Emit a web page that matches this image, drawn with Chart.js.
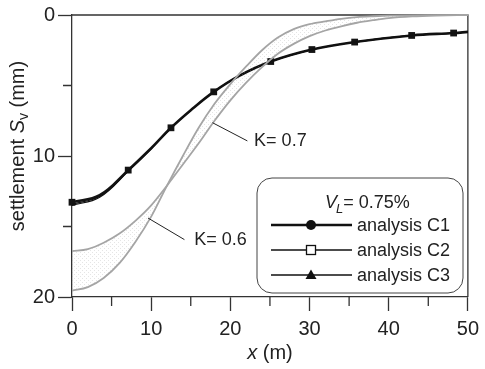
<!DOCTYPE html>
<html>
<head>
<meta charset="utf-8">
<script src="https://cdn.jsdelivr.net/npm/chart.js@4.4.1/dist/chart.umd.min.js"></script>
<style>
  html, body { margin: 0; padding: 0; background: #fff; }
  #wrap { width: 485px; height: 369px; }
</style>
</head>
<body>
<div id="wrap"><canvas id="settlementChart" width="485" height="369"></canvas></div>
<script>
// values: x in m, settlement in mm
const xGauss = [0, 2, 4, 6, 8, 10, 12, 14, 16, 18, 20, 22, 24, 26, 28, 30, 32, 34, 36, 38, 40, 43, 46, 50];
const k07 = [16.75, 16.6, 16.15, 15.5, 14.6, 13.5, 12.1, 10.6, 9.1, 7.5, 6.05, 4.8, 3.7, 2.75, 2.05, 1.5, 1.1, 0.8, 0.55, 0.37, 0.22, 0.1, 0.04, 0];
const k06 = [19.55, 19.3, 18.65, 17.6, 16.1, 14.3, 12.1, 10.0, 8.0, 6.3, 4.9, 3.65, 2.5, 1.6, 1.0, 0.65, 0.45, 0.27, 0.15, 0.09, 0.05, 0.02, 0.01, 0];

const xAnalysis = [0, 3.5, 7.1, 10, 12.5, 15, 17.9, 21, 25.1, 30.3, 35.7, 42.9, 48.2, 50];
const c1 = [13.28, 12.78, 11.0, 9.45, 8.0, 6.75, 5.45, 4.35, 3.3, 2.45, 1.92, 1.45, 1.28, 1.2];
const c2 = [13.5, 12.92, 11.08, 9.48, 8.02, 6.76, 5.46, 4.36, 3.3, 2.45, 1.92, 1.45, 1.28, 1.2];
const c3 = [13.42, 12.86, 11.05, 9.47, 8.01, 6.75, 5.45, 4.35, 3.3, 2.45, 1.92, 1.45, 1.28, 1.2];
const c1Marker = [1, 0, 1, 0, 1, 0, 1, 0, 1, 1, 1, 1, 1, 0];

const seriesNames = ['analysis C1', 'analysis C2', 'analysis C3'];
const xTickLabels = ['0', '10', '20', '30', '40', '50'];
const yTickLabels = ['0', '10', '20'];

// K labels: leader start (on curve), leader end, text anchor (data units)
const kLabels = [
  { text: 'K= 0.7', from: [17.75, 7.64], to: [22.15, 8.93], at: [23.0, 8.93] },
  { text: 'K= 0.6', from: [9.6, 14.4], to: [14.2, 15.93], at: [15.45, 15.93] }
];

const FONT = '"Liberation Sans", Arial, Helvetica, sans-serif';
const INK = '#222';
const GREY = '#a5a5a5';

const toXY = (xs, ys) => xs.map((x, i) => ({ x, y: ys[i] }));

const canvas = document.getElementById('settlementChart');
const ctx = canvas.getContext('2d');

function dotPattern() {
  const c = document.createElement('canvas');
  c.width = 4; c.height = 4;
  const g = c.getContext('2d');
  g.fillStyle = 'rgba(150,150,150,0.25)';
  g.fillRect(0, 0, 1, 1);
  g.fillRect(2, 2, 1, 1);
  return ctx.createPattern(c, 'repeat');
}

// frame, minor ticks, annotations, custom legend, axis titles
const decor = {
  id: 'decor',
  beforeDatasetsDraw(chart) {
    const { ctx: c, chartArea: a, scales } = chart;
    c.save();
    c.strokeStyle = '#333';
    c.lineWidth = 1.3;
    c.beginPath();
    c.moveTo(a.left, a.top);
    c.lineTo(a.right, a.top);
    c.lineTo(a.right, a.bottom);
    c.stroke();
    // minor ticks
    c.beginPath();
    scales.x.ticks.forEach(t => {
      if (t.value % 10 !== 0) {
        const px = scales.x.getPixelForValue(t.value);
        c.moveTo(px, a.bottom); c.lineTo(px, a.bottom + 9);
      }
    });
    scales.y.ticks.forEach(t => {
      if (t.value % 10 !== 0) {
        const py = scales.y.getPixelForValue(t.value);
        c.moveTo(a.left - 9, py); c.lineTo(a.left, py);
      }
    });
    c.stroke();
    c.restore();
  },
  afterDraw(chart) {
    const { ctx: c, chartArea: a, scales } = chart;
    const X = v => scales.x.getPixelForValue(v);
    const Y = v => scales.y.getPixelForValue(v);
    c.save();

    // K annotations
    c.strokeStyle = INK;
    c.lineWidth = 1;
    c.fillStyle = INK;
    c.font = '18px ' + FONT;
    c.textBaseline = 'middle';
    c.textAlign = 'left';
    kLabels.forEach(k => {
      c.beginPath();
      c.moveTo(X(k.from[0]), Y(k.from[1]));
      c.lineTo(X(k.to[0]), Y(k.to[1]));
      c.stroke();
      c.fillText(k.text, X(k.at[0]), Y(k.at[1]));
    });

    // legend box
    const bx = 257, by = 178, bw = 206, bh = 115, r = 15;
    c.beginPath();
    c.roundRect(bx, by, bw, bh, r);
    c.fillStyle = '#fff';
    c.fill();
    c.strokeStyle = '#444';
    c.lineWidth = 1;
    c.stroke();

    c.fillStyle = INK;
    c.textBaseline = 'alphabetic';
    let tx = 325;
    c.font = 'italic 18px ' + FONT;
    c.fillText('V', tx, 208);
    tx += c.measureText('V').width;
    c.font = 'italic 13px ' + FONT;
    c.fillText('L', tx - 1, 213);
    tx += c.measureText('L').width - 1;
    c.font = '18px ' + FONT;
    c.fillText('= 0.75%', tx, 208);

    const rows = [225, 250, 275];
    rows.forEach((ry, i) => {
      c.strokeStyle = '#111';
      c.lineWidth = i === 0 ? 2.6 : 1.5;
      c.beginPath();
      c.moveTo(271, ry); c.lineTo(352, ry);
      c.stroke();
      c.fillStyle = '#111';
      if (i === 0) {
        c.beginPath(); c.arc(311, ry, 5, 0, Math.PI * 2); c.fill();
      } else if (i === 1) {
        c.fillStyle = '#fff';
        c.fillRect(306.5, ry - 4.5, 9, 9);
        c.lineWidth = 1.3;
        c.strokeRect(306.5, ry - 4.5, 9, 9);
      } else {
        c.beginPath();
        c.moveTo(311, ry - 5.5); c.lineTo(316.5, ry + 4); c.lineTo(305.5, ry + 4);
        c.closePath(); c.fill();
      }
      c.fillStyle = INK;
      c.font = '18px ' + FONT;
      c.textBaseline = 'middle';
      c.fillText(seriesNames[i], 357, ry + 1);
    });

    // x title
    c.textBaseline = 'alphabetic';
    c.font = 'italic 20px ' + FONT;
    const xw = c.measureText('x').width;
    c.font = '20px ' + FONT;
    const mw = c.measureText(' (m)').width;
    let sx = (a.left + a.right) / 2 - (xw + mw) / 2;
    c.font = 'italic 20px ' + FONT;
    c.fillText('x', sx, 359);
    c.font = '20px ' + FONT;
    c.fillText(' (m)', sx + xw, 359);

    // y title (rotated)
    c.translate(24, 146);
    c.rotate(-Math.PI / 2);
    const parts = [
      { t: 'settlement ', f: '20px ', dy: 0 },
      { t: 'S', f: 'italic 20px ', dy: 0 },
      { t: 'v', f: '14px ', dy: 4 },
      { t: ' (mm)', f: '20px ', dy: 0 }
    ];
    let total = 0;
    parts.forEach(p => { c.font = p.f + FONT; p.w = c.measureText(p.t).width; total += p.w; });
    let px = -total / 2;
    parts.forEach(p => { c.font = p.f + FONT; c.fillText(p.t, px, p.dy); px += p.w; });

    c.restore();
  }
};

const tickColor = t => (t.tick && t.tick.value % 10 === 0 ? '#333' : 'rgba(0,0,0,0)');

new Chart(ctx, {
  type: 'line',
  data: {
    datasets: [
      {
        label: 'K=0.7',
        data: toXY(xGauss, k07),
        borderColor: GREY,
        borderWidth: 1.8,
        pointRadius: 0,
        cubicInterpolationMode: 'monotone',
        fill: false,
        clip: 4
      },
      {
        label: 'K=0.6',
        data: toXY(xGauss, k06),
        borderColor: GREY,
        borderWidth: 1.8,
        pointRadius: 0,
        cubicInterpolationMode: 'monotone',
        fill: '-1',
        backgroundColor: dotPattern(),
        clip: 4
      },
      {
        label: seriesNames[2],
        data: toXY(xAnalysis, c3),
        borderColor: '#111',
        borderWidth: 1.2,
        pointRadius: 0,
        tension: 0.4,
        clip: 4
      },
      {
        label: seriesNames[1],
        data: toXY(xAnalysis, c2),
        borderColor: '#111',
        borderWidth: 1.2,
        pointRadius: 0,
        tension: 0.4,
        clip: 4
      },
      {
        label: seriesNames[0],
        data: toXY(xAnalysis, c1),
        borderColor: '#141414',
        backgroundColor: '#141414',
        borderWidth: 2.6,
        pointStyle: 'rect',
        pointRadius: c1Marker.map(m => (m ? 4.8 : 0)),
        pointBorderWidth: 0,
        tension: 0.4,
        clip: 6
      }
    ]
  },
  options: {
    responsive: false,
    animation: false,
    events: [],
    layout: { padding: { left: 0, right: 15, top: 13, bottom: 0 } },
    plugins: { legend: { display: false }, tooltip: { enabled: false } },
    scales: {
      x: {
        type: 'linear',
        min: 0, max: 50,
        afterFit: s => { s.height = 72; },
        ticks: {
          stepSize: 5,
          autoSkip: false,
          maxRotation: 0,
          padding: 6,
          color: INK,
          font: { family: FONT, size: 20 },
          callback: v => (xTickLabels.includes(String(v)) ? String(v) : '')
        },
        grid: { drawOnChartArea: false, drawTicks: true, tickLength: 14, tickColor, tickWidth: 1.3 },
        border: { color: '#333', width: 1.3 }
      },
      y: {
        type: 'linear',
        reverse: true,
        min: 0, max: 20,
        afterFit: s => { s.width = 72; },
        ticks: {
          stepSize: 5,
          autoSkip: false,
          padding: 3,
          color: INK,
          font: { family: FONT, size: 20 },
          callback: v => (yTickLabels.includes(String(v)) ? String(v) : '')
        },
        grid: { drawOnChartArea: false, drawTicks: true, tickLength: 14, tickColor, tickWidth: 1.3 },
        border: { color: '#333', width: 1.3 }
      }
    }
  },
  plugins: [decor]
});
</script>
</body>
</html>
